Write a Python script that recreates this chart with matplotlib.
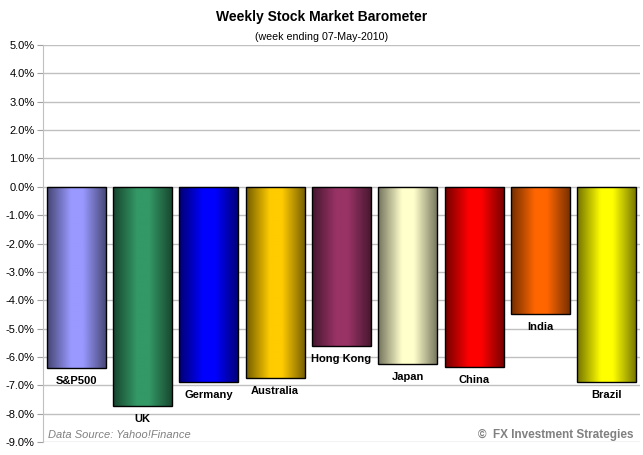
import matplotlib
matplotlib.use("Agg")
import matplotlib.pyplot as plt
import numpy as np
from matplotlib.colors import to_rgb
from matplotlib.ticker import FuncFormatter

markets = ['S&P500', 'UK', 'Germany', 'Australia', 'Hong Kong',
           'Japan', 'China', 'India', 'Brazil']
weekly_change = [-6.39, -7.73, -6.87, -6.75, -5.61, -6.26, -6.36, -4.48, -6.89]
bar_colors = ['#9999FF', '#339966', '#0000FF', '#FFCC00', '#993366',
              '#FFFFCC', '#FF0000', '#FF6600', '#FFFF00']

plt.rcParams['font.family'] = ['Liberation Sans', 'DejaVu Sans']

fig = plt.figure(figsize=(6.43, 4.55), dpi=100)
ax = fig.add_axes([43 / 643, 1 - 442 / 455, 597 / 643, 397 / 455])

x = np.arange(len(markets))
width = 0.89
bars = ax.bar(x, weekly_change, width=width, color='none',
              edgecolor='black', linewidth=1.0, zorder=3)

# horizontal shading: dark edges, bright middle
t = np.linspace(0, 1, 200)
shade = np.interp(t, [0, 0.4, 0.6, 1], [0.45, 1.0, 1.0, 0.45])
for rect, col in zip(bars, bar_colors):
    rgb = np.array(to_rgb(col))
    img = (shade[:, None] * rgb[None, :])[None, :, :]
    x0 = rect.get_x()
    x1 = x0 + rect.get_width()
    y1 = rect.get_height()
    im = ax.imshow(img, extent=[x0, x1, y1, 0], aspect='auto',
                   interpolation='bilinear', zorder=2)
    im.set_clip_path(rect)

for xi, v, name in zip(x, weekly_change, markets):
    ax.annotate(name, (xi, v), xytext=(0, -13), textcoords='offset pixels',
                ha='center', va='center', fontsize=8, fontweight='bold',
                zorder=4)

ax.set_xlim(-0.5, len(markets) - 0.5)
ax.set_ylim(-9, 5)
ax.set_yticks(np.arange(-9, 6, 1))
ax.yaxis.set_major_formatter(FuncFormatter(lambda v, p: f"{v:.1f}%"))
ax.set_xticks([])
ax.tick_params(axis='y', labelsize=8, length=4, color='#A0A0A0', pad=2)
ax.grid(axis='y', color='#C0C0C0', linewidth=1.0, zorder=0)
for s in ['top', 'right', 'bottom']:
    ax.spines[s].set_visible(False)
ax.spines['left'].set_color('#C0C0C0')

fig.text(0.5, 1 - 17 / 455, 'Weekly Stock Market Barometer', ha='center',
         va='center', fontsize=10, fontweight='bold')
fig.text(0.5, 1 - 37 / 455, '(week ending 07-May-2010)', ha='center',
         va='center', fontsize=7.7)
fig.text(48 / 643, 1 - 435 / 455, 'Data Source: Yahoo!Finance',
         ha='left', va='center', fontsize=8, style='italic', color='#808080')
fig.text(633 / 643, 1 - 435 / 455, '\u00a9  FX Investment Strategies',
         ha='right', va='center', fontsize=8.5, fontweight='bold',
         color='#808080')

fig.savefig('out.png', dpi=100)
